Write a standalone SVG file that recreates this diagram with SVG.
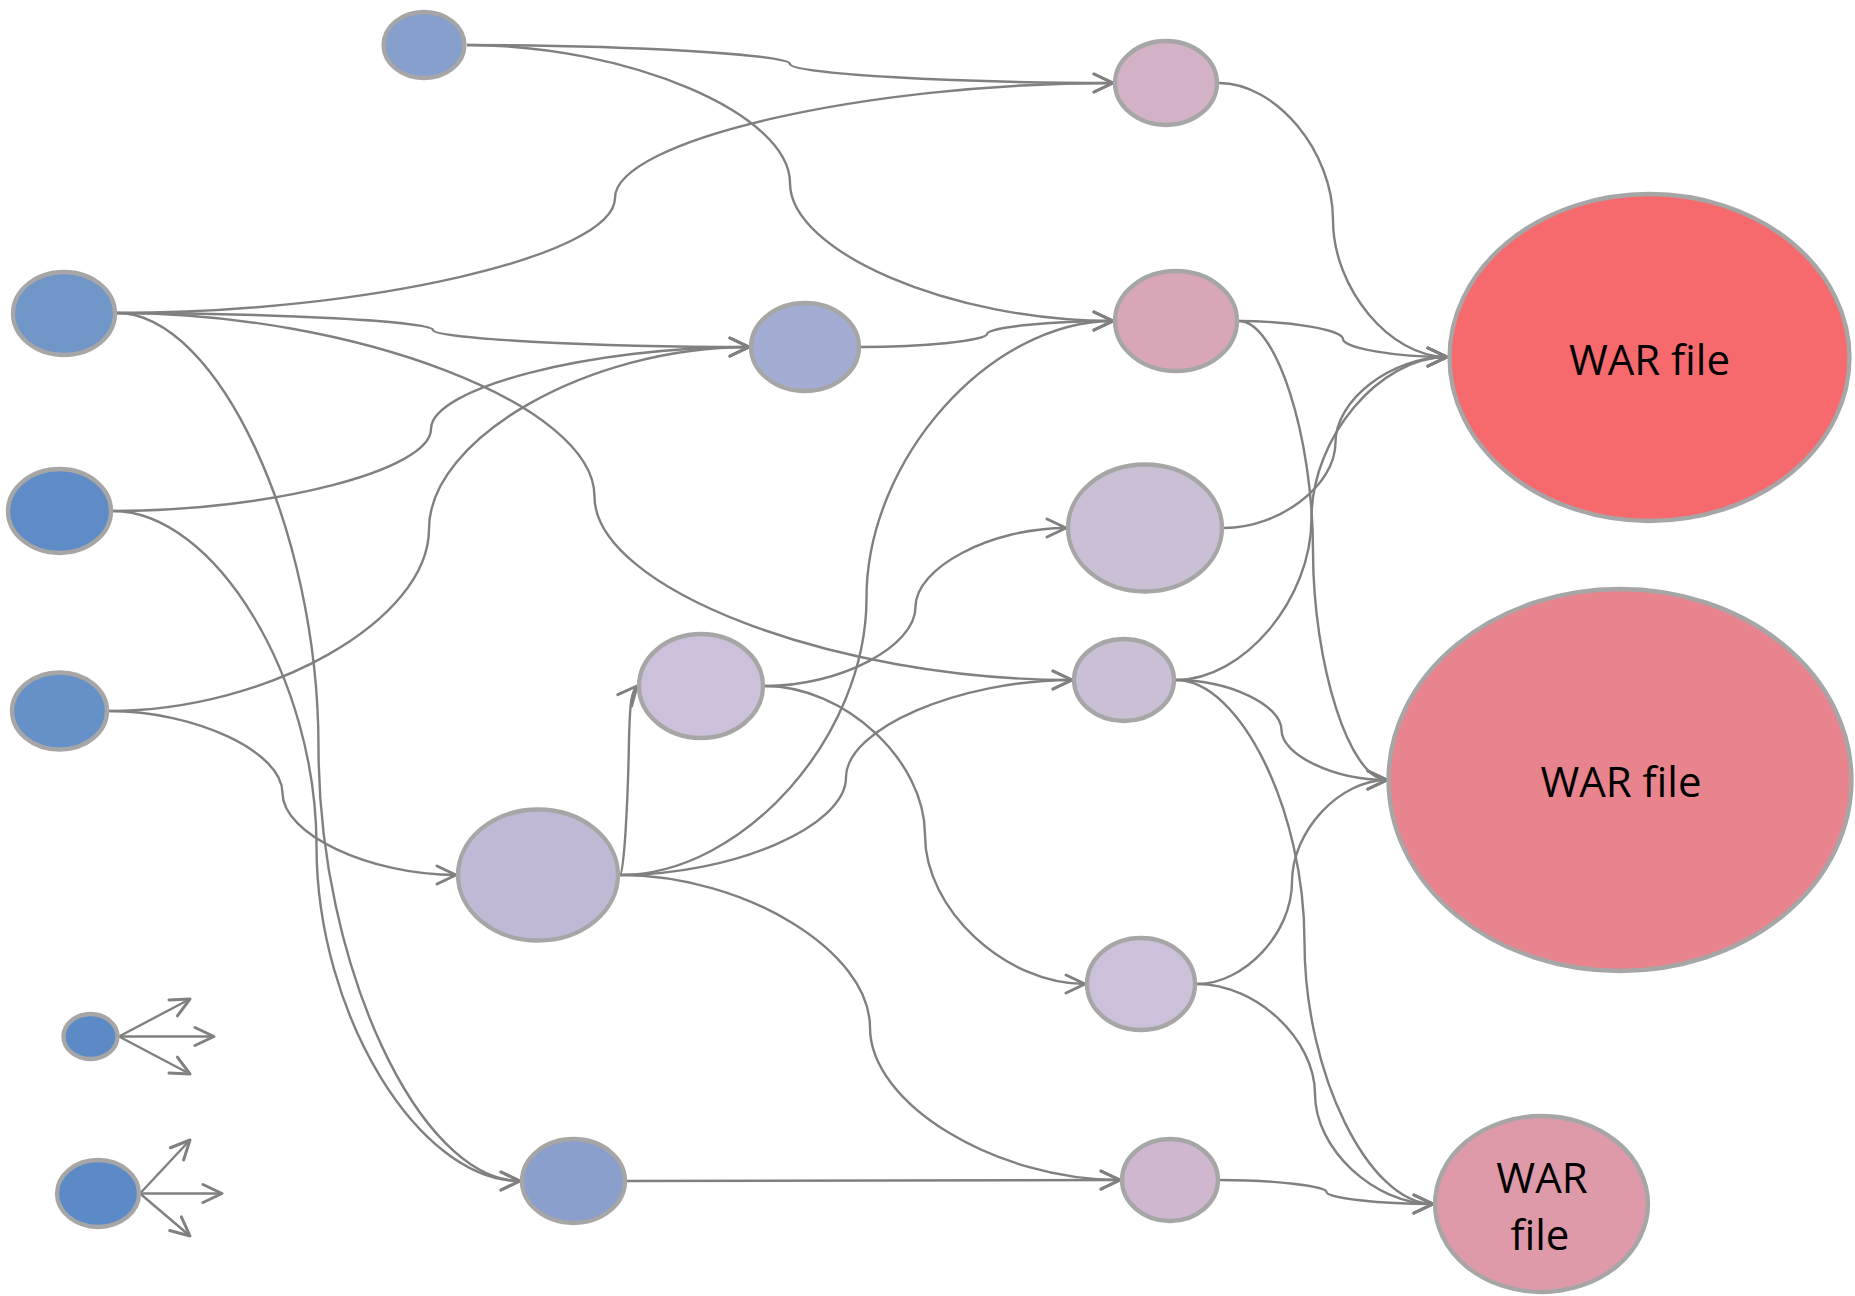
<svg xmlns="http://www.w3.org/2000/svg" width="1855" height="1296" viewBox="0 0 1855 1296">
<style>
.n{stroke:#A6A6A6;stroke-width:4.3}
.c{fill:none;stroke:#808080;stroke-width:2.4}
.a{marker-end:url(#arr)}
.t{font-family:"Open Sans","Liberation Sans",sans-serif;font-size:42px;fill:#000;text-anchor:middle}
</style>
<defs>
<marker id="arr" markerUnits="userSpaceOnUse" markerWidth="24" markerHeight="24" refX="20" refY="11" orient="auto" overflow="visible">
<path d="M1,2 L20,11 L1,20" fill="none" stroke="#808080" stroke-width="3" stroke-linecap="round" stroke-linejoin="round"/>
</marker>
</defs>
<rect width="1855" height="1296" fill="#fff"/>
<g id="connectors">
<path class="c a" d="M467 45 C628.5 45,790 54.5,790 64 C790 73.5,951.5 83,1113 83"/>
<path class="c a" d="M467 45 C628.5 45,790 114,790 183 C790 252,951.5 321,1113 321"/>
<path class="c a" d="M117 313 C366 313,615 255.5,615 198 C615 140.5,864 83,1113 83"/>
<path class="c a" d="M117 313 C275 313,433 321.5,433 330 C433 338.5,591 347,749 347"/>
<path class="c a" d="M117 313 C355.75 313,594.5 404.75,594.5 496.5 C594.5 588.25,833.25 680,1072 680"/>
<path class="c a" d="M117 313 C217.75 313,318.5 530,318.5 747 C318.5 964,419.25 1181,520 1181"/>
<path class="c a" d="M113 511 C272 511,431 470,431 429 C431 388,590 347,749 347"/>
<path class="c a" d="M113 511 C214.75 511,316.5 678.5,316.5 846 C316.5 1013.5,418.25 1181,520 1181"/>
<path class="c a" d="M109 711 C269 711,429 620,429 529 C429 438,589 347,749 347"/>
<path class="c a" d="M109 711 C195.75 711,282.5 752,282.5 793 C282.5 834,369.25 875,456 875"/>
<path class="c a" d="M861 347 C924 347,987 340.5,987 334 C987 327.5,1050 321,1113 321"/>
<path class="c a" d="M620 875 C743.25 875,866.5 736.5,866.5 598 C866.5 459.5,989.75 321,1113 321"/>
<path class="c a" d="M620 875 C624 875,628 800,629 740 C630 702,631 693,637 686"/>
<path class="c a" d="M620 875 C733 875,846 826.25,846 777.5 C846 728.75,959 680,1072 680"/>
<path class="c a" d="M620 875 C745 875,870 951.25,870 1027.5 C870 1103.75,995 1180,1120 1180"/>
<path class="c a" d="M765 686 C840.25 686,915.5 646.5,915.5 607 C915.5 567.5,990.75 528,1066 528"/>
<path class="c a" d="M765 686 C845 686,925 760.5,925 835 C925 909.5,1005 984,1085 984"/>
<path class="c a" d="M627 1181 L1120 1180"/>
<path class="c a" d="M1219 83 C1276 83,1333 151.5,1333 220 C1333 288.5,1390 357,1447 357"/>
<path class="c a" d="M1239 321 C1291 321,1343 330,1343 339 C1343 348,1395 357,1447 357"/>
<path class="c a" d="M1239 321 C1276 321,1313 435.75,1313 550.5 C1313 665.25,1350 780,1387 780"/>
<path class="c a" d="M1224 528 C1279.75 528,1335.5 485.25,1335.5 442.5 C1335.5 399.75,1391.25 357,1447 357"/>
<path class="c a" d="M1176 680 C1243.75 680,1311.5 599.25,1311.5 518.5 C1311.5 437.75,1379.25 357,1447 357"/>
<path class="c a" d="M1176 680 C1228.75 680,1281.5 705,1281.5 730 C1281.5 755,1334.25 780,1387 780"/>
<path class="c a" d="M1176 680 C1240.25 680,1304.5 811,1304.5 942 C1304.5 1073,1368.75 1204,1433 1204"/>
<path class="c a" d="M1197 984 C1244.5 984,1292 933,1292 882 C1292 831,1339.5 780,1387 780"/>
<path class="c a" d="M1197 984 C1256 984,1315 1039,1315 1094 C1315 1149,1374 1204,1433 1204"/>
<path class="c a" d="M1220 1180 C1273.25 1180,1326.5 1186,1326.5 1192 C1326.5 1198,1379.75 1204,1433 1204"/>
<path class="c a" d="M119 1036.5 L190 999"/>
<path class="c a" d="M119 1036.5 L214 1036.5"/>
<path class="c a" d="M119 1036.5 L190 1074"/>
<path class="c a" d="M140 1193.5 L190 1140"/>
<path class="c a" d="M140 1193.5 L222 1193.5"/>
<path class="c a" d="M140 1193.5 L190 1236"/>
</g>
<g id="nodeA"><ellipse class="n" cx="424" cy="45" rx="40.5" ry="33" fill="#879FCC"/></g>
<g id="nodeB"><ellipse class="n" cx="64" cy="313.5" rx="51" ry="41.5" fill="#7096C8"/></g>
<g id="nodeC"><ellipse class="n" cx="59.5" cy="511" rx="51.5" ry="42" fill="#5F8BC6"/></g>
<g id="nodeD"><ellipse class="n" cx="59.5" cy="711" rx="47.5" ry="38.5" fill="#6590C8"/></g>
<g id="nodeE"><ellipse class="n" cx="1166" cy="83" rx="51" ry="42" fill="#D3B2C7"/></g>
<g id="nodeF"><ellipse class="n" cx="1176" cy="321" rx="61" ry="50" fill="#D9A6B8"/></g>
<g id="nodeG"><ellipse class="n" cx="805" cy="347" rx="54" ry="44" fill="#A3ADD3"/></g>
<g id="nodeH"><ellipse class="n" cx="1145" cy="528" rx="77" ry="63.5" fill="#CBBFD6"/></g>
<g id="nodeI"><ellipse class="n" cx="1124" cy="680" rx="50" ry="41" fill="#CBBFD6"/></g>
<g id="nodeJ"><ellipse class="n" cx="701" cy="686" rx="62" ry="52" fill="#CDC0DA"/></g>
<g id="nodeK"><ellipse class="n" cx="538" cy="875" rx="80" ry="65.5" fill="#BFB9D6"/></g>
<g id="nodeL"><ellipse class="n" cx="573.5" cy="1181" rx="51.5" ry="42" fill="#8A9FCC"/></g>
<g id="nodeN"><ellipse class="n" cx="1170" cy="1180" rx="48" ry="41" fill="#CFB8CF"/></g>
<g id="nodeO"><ellipse class="n" cx="1141" cy="984" rx="54" ry="46" fill="#CDC0DA"/></g>
<g id="war1"><ellipse class="n" cx="1649.5" cy="357.5" rx="200" ry="163.5" fill="#F66A6E"/><text class="t" x="1649.5" y="375">WAR file</text></g>
<g id="war2"><ellipse class="n" cx="1620" cy="780" rx="231.5" ry="191" fill="#E8848D"/><text class="t" x="1621" y="797">WAR file</text></g>
<g id="war3"><ellipse class="n" cx="1541.5" cy="1204" rx="106.5" ry="88" fill="#DE9AA8"/><text class="t" x="1542" y="1193">WAR</text><text class="t" x="1540" y="1250">file</text></g>
<g id="legend1"><ellipse class="n" cx="90.5" cy="1036.5" rx="27" ry="22.5" fill="#5B8AC6"/></g>
<g id="legend2"><ellipse class="n" cx="98" cy="1193.5" rx="41" ry="33.5" fill="#5B8AC6"/></g>
</svg>
